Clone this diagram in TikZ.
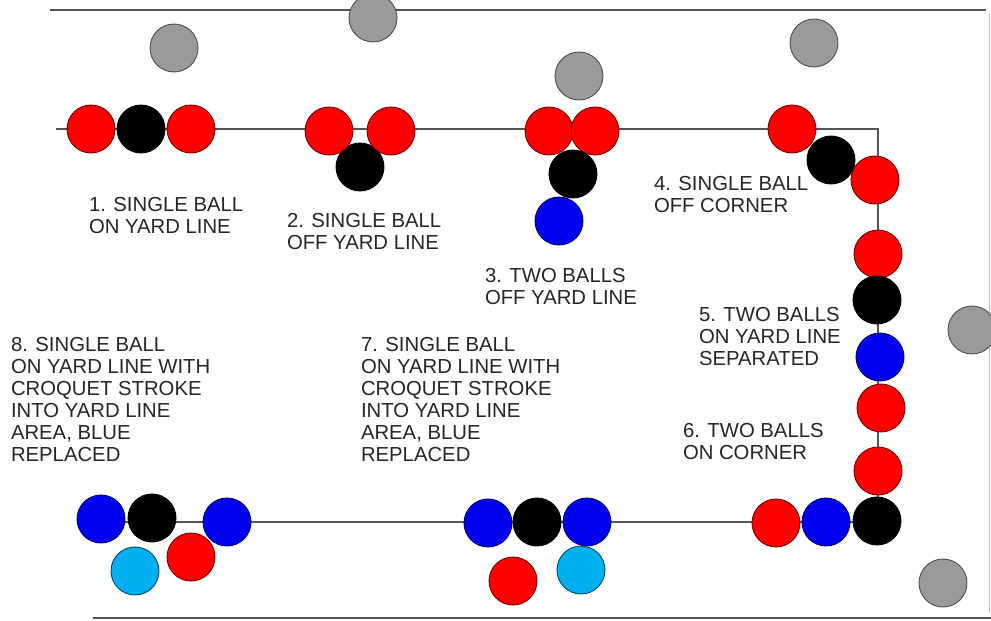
\documentclass[tikz,border=0pt]{standalone}
\usepackage{fontspec}
\setmainfont{Liberation Sans}
\definecolor{bred}{HTML}{FF0000}
\definecolor{bredline}{HTML}{7A0000}
\definecolor{bblue}{HTML}{0000EE}
\definecolor{bblueline}{HTML}{000070}
\definecolor{bcyan}{HTML}{00B0F0}
\definecolor{bcyanline}{HTML}{004A66}
\definecolor{bblack}{HTML}{000000}
\definecolor{bgray}{HTML}{9A9A9A}
\definecolor{bgrayline}{HTML}{505050}
\definecolor{txt}{HTML}{262626}
\definecolor{linegray}{HTML}{555555}
\begin{document}
\begin{tikzpicture}[x=1pt,y=-1pt,
  ball/.style={circle,minimum size=48pt,inner sep=0pt,outer sep=0pt,line width=0.9pt},
  redball/.style={ball,fill=bred,draw=bredline},
  blackball/.style={ball,fill=bblack,draw=bblack},
  blueball/.style={ball,fill=bblue,draw=bblueline},
  cyanball/.style={ball,fill=bcyan,draw=bcyanline},
  grayball/.style={ball,fill=bgray,draw=bgrayline},
  yard/.style={draw=linegray,line width=1.3pt},
  border/.style={draw=linegray,line width=1.5pt},
  faint/.style={draw=black!25,line width=1pt},
  lbl/.style={anchor=north west,align=left,inner sep=0pt,outer sep=0pt,text=txt,
    font=\fontsize{20.3}{22}\selectfont}
]
\useasboundingbox (0,0) rectangle (991,621);

% borders
\coordinate (tb1) at (50,10);
\coordinate (tb2) at (986,10);
\coordinate (rb1) at (989,14);
\coordinate (rb2) at (989,612);
\coordinate (bb1) at (93,618);
\coordinate (bb2) at (991,618);
\draw[border] (tb1) -- (tb2);
\draw[faint] (rb1) -- (rb2);
\draw[border] (bb1) -- (bb2);

% yard line
\coordinate (yl1) at (56,129);
\coordinate (yc1) at (878,129);
\coordinate (yc2) at (878,522);
\coordinate (yl2) at (101,522);
\draw[yard] (yl1) -- (yc1) -- (yc2) -- (yl2);

% gray balls
\node[grayball] (g1) at (174,48) {};
\node[grayball] (g2) at (373,18) {};
\node[grayball] (g3) at (579,76) {};
\node[grayball] (g4) at (814,43) {};
\node[grayball] (g5) at (972,330) {};
\node[grayball] (g6) at (943,583) {};

% group 1
\node[redball] (a1) at (91,129) {};
\node[blackball] (a2) at (141,129) {};
\node[redball] (a3) at (191,129) {};

% group 2
\node[blackball] (b3) at (360,167) {};
\node[redball] (b1) at (329,131) {};
\node[redball] (b2) at (391,131) {};

% group 3
\node[redball] (c1) at (549,131) {};
\node[redball] (c2) at (595,131) {};
\node[blackball] (c3) at (573,174) {};
\node[blueball] (c4) at (559,221) {};

% group 4
\node[redball] (d1) at (792,129) {};
\node[blackball] (d2) at (831,160) {};
\node[redball] (d3) at (875,180) {};

% group 5
\node[redball] (e1) at (878,254) {};
\node[blackball] (e2) at (877,300) {};
\node[blueball] (e3) at (880,357) {};
\node[redball] (e4) at (881,408) {};

% group 6
\node[redball] (f1) at (878,471) {};
\node[blackball] (f2) at (877,521) {};
\node[blueball] (f3) at (826,522) {};
\node[redball] (f4) at (776,523) {};

% group 7
\node[blueball] (h1) at (488,523) {};
\node[blackball] (h2) at (537,522) {};
\node[blueball] (h3) at (587,522) {};
\node[redball] (h4) at (513,581) {};
\node[cyanball] (h5) at (581,570) {};

% group 8
\node[blueball] (i1) at (101,519) {};
\node[blackball] (i2) at (152,518) {};
\node[blueball] (i3) at (227,522) {};
\node[redball] (i4) at (191,557) {};
\node[cyanball] (i5) at (135,571) {};

% labels
\node[lbl] (t1) at (89,197) {1. SINGLE BALL\\ON YARD LINE};
\node[lbl] (t2) at (287,213) {2. SINGLE BALL\\OFF YARD LINE};
\node[lbl] (t3) at (485,268) {3. TWO BALLS\\OFF YARD LINE};
\node[lbl] (t4) at (654,176) {4. SINGLE BALL\\OFF CORNER};
\node[lbl] (t5) at (699,307) {5. TWO BALLS\\ON YARD LINE\\SEPARATED};
\node[lbl] (t6) at (683,423) {6. TWO BALLS\\ON CORNER};
\node[lbl] (t7) at (361,337) {7. SINGLE BALL\\ON YARD LINE WITH\\CROQUET STROKE\\INTO YARD LINE\\AREA, BLUE\\REPLACED};
\node[lbl] (t8) at (11,337) {8. SINGLE BALL\\ON YARD LINE WITH\\CROQUET STROKE\\INTO YARD LINE\\AREA, BLUE\\REPLACED};
\end{tikzpicture}
\end{document}
